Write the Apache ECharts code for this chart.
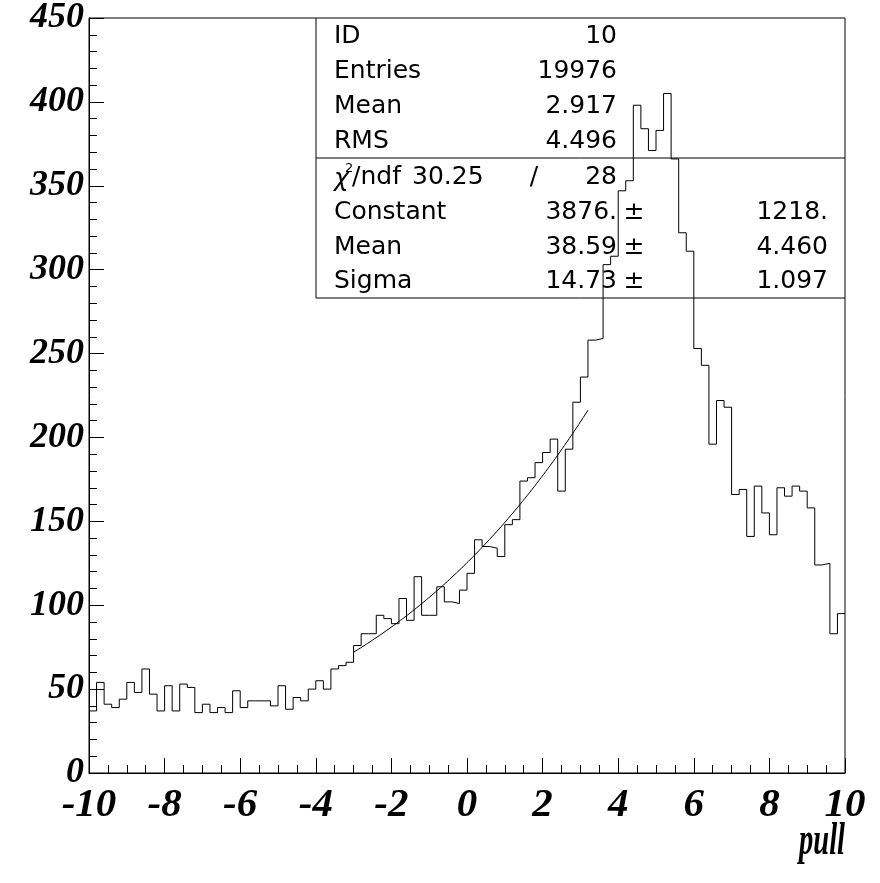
<!DOCTYPE html>
<html>
<head>
<meta charset="utf-8">
<script src="https://cdn.jsdelivr.net/npm/echarts@6/dist/echarts.min.js"></script>
<style>
  html, body { margin: 0; padding: 0; background: #fff; }
  #chart { width: 880px; height: 883px; }
</style>
</head>
<body>
<div id="chart"></div>
<script>
// Histogram ID 10: distribution of "pull", 100 bins from -10 to 10
const binLow = -10;
const binWidth = 0.2;
const counts = [
  37, 54, 41, 39, 44, 54, 48, 62, 47, 37,
  52, 37, 53, 51, 36, 41, 36, 39, 36, 49,
  39, 43, 43, 43, 40, 52, 38, 45, 43, 50,
  55, 50, 62, 64, 66, 76, 83, 83, 94, 92,
  89, 104, 91, 117, 94, 94, 111, 102, 101, 109,
  119, 139, 135, 134, 129, 148, 151, 174, 176, 185,
  191, 199, 168, 193, 221, 236, 258, 259, 303, 308,
  347, 353, 398, 384, 371, 383, 405, 366, 322, 311,
  253, 243, 196, 222, 218, 166, 169, 141, 171, 155,
  142, 170, 165, 171, 168, 158, 124, 125, 83, 95
];

// Axis ranges and tick spacing
const xRange = [-10, 10];
const xMajorStep = 2;
const yRange = [0, 450];
const yMajorStep = 50;
const xTitle = 'pull';

// Statistics box contents
const statNames = ['ID', 'Entries', 'Mean', 'RMS'];
const statValues = ['10', '19976', '2.917', '4.496'];
const chi2Value = '30.25';
const ndfValue = '28';
const fitNames = ['Constant', 'Mean', 'Sigma'];
const fitValues = ['3876.', '38.59', '14.73'];
const fitErrors = ['1218.', '4.460', '1.097'];

// Gaussian fit parameters and fit range
const fitConstant = 3876;
const fitMean = 38.59;
const fitSigma = 14.73;
const fitRange = [-3.0, 3.2];

// Step outline: one point at each bin's lower edge, plus the upper edge of the last bin
const histPoints = counts.map((c, i) => [binLow + i * binWidth, c]);
histPoints.push([binLow + counts.length * binWidth, counts[counts.length - 1]]);

// Fit curve evaluated from the fitted parameters
const fitPoints = [];
const nFit = 200;
for (let k = 0; k <= nFit; k++) {
  const x = fitRange[0] + (fitRange[1] - fitRange[0]) * k / nFit;
  const z = (x - fitMean) / fitSigma;
  fitPoints.push([x, fitConstant * Math.exp(-0.5 * z * z)]);
}

const grid = { left: 89, right: 35, top: 18, bottom: 110 };
const W = 880, H = 883;
const plotRight = W - grid.right;

const tickFont = {
  fontFamily: 'Liberation Serif',
  fontWeight: 'bold',
  fontStyle: 'italic',
  color: '#000'
};
const boxFont = { fontFamily: 'DejaVu Sans', fontSize: 25, fill: '#000' };

// Statistics box layout
const box = { left: 316, top: 18, mid: 158, bottom: 298 };
const rowY = [36, 71, 106, 141, 177, 212, 247, 281];
const colName = 334, colValue = 617, colPm = 634, colErr = 828;

function txt(text, x, y, align, extra) {
  return {
    type: 'text', x: x, y: y, silent: true,
    style: Object.assign({ text: text, align: align, verticalAlign: 'middle' }, boxFont, extra || {})
  };
}

const boxElements = [
  { type: 'line', silent: true, shape: { x1: box.left, y1: box.top, x2: box.left, y2: box.bottom }, style: { stroke: '#000', lineWidth: 1 } },
  { type: 'line', silent: true, shape: { x1: box.left, y1: box.mid, x2: plotRight, y2: box.mid }, style: { stroke: '#000', lineWidth: 1 } },
  { type: 'line', silent: true, shape: { x1: box.left, y1: box.bottom, x2: plotRight, y2: box.bottom }, style: { stroke: '#000', lineWidth: 1 } }
];
statNames.forEach((n, i) => {
  boxElements.push(txt(n, colName, rowY[i], 'left'));
  boxElements.push(txt(statValues[i], colValue, rowY[i], 'right'));
});
// chi-square / ndf row
boxElements.push(txt('\u03C7', colName, rowY[4] + 2, 'left', { fontStyle: 'italic' }));
boxElements.push(txt('2', 345, rowY[4] - 8, 'left', { fontSize: 13 }));
boxElements.push(txt('/ndf', 352, rowY[4], 'left'));
boxElements.push(txt(chi2Value, 412, rowY[4], 'left', { letterSpacing: 2 }));
boxElements.push(txt('/', 534, rowY[4], 'center'));
boxElements.push(txt(ndfValue, colValue, rowY[4], 'right'));
fitNames.forEach((n, i) => {
  const y = rowY[5 + i];
  boxElements.push(txt(n, colName, y, 'left'));
  boxElements.push(txt(fitValues[i], colValue, y, 'right'));
  boxElements.push(txt('\u00B1', colPm, y, 'center'));
  boxElements.push(txt(fitErrors[i], colErr, y, 'right'));
});
// x-axis title, horizontally condensed like the tick labels
boxElements.push({
  type: 'text', silent: true, x: plotRight, y: 842, scaleX: 0.62,
  style: {
    text: xTitle, align: 'right', verticalAlign: 'middle', fontSize: 46, fill: '#000',
    fontFamily: 'Liberation Serif', fontWeight: 'bold', fontStyle: 'italic'
  }
});

const chart = echarts.init(document.getElementById('chart'), null, { renderer: 'canvas' });
chart.setOption({
  animation: false,
  backgroundColor: '#fff',
  grid: Object.assign({ show: true, borderColor: '#000', borderWidth: 1, backgroundColor: 'transparent' }, grid),
  xAxis: {
    type: 'value',
    min: xRange[0], max: xRange[1], interval: xMajorStep,
    axisLine: { show: true, onZero: false, lineStyle: { color: '#000', width: 1 } },
    axisTick: { show: true, inside: true, length: 15, lineStyle: { color: '#000', width: 1 } },
    minorTick: { show: true, splitNumber: 4, length: 8, lineStyle: { color: '#000', width: 1 } },
    splitLine: { show: false },
    axisLabel: Object.assign({ fontSize: 41, margin: 12 }, tickFont)
  },
  yAxis: {
    type: 'value',
    min: yRange[0], max: yRange[1], interval: yMajorStep,
    axisLine: { show: true, onZero: false, lineStyle: { color: '#000', width: 1 } },
    axisTick: { show: true, inside: true, length: 15, lineStyle: { color: '#000', width: 1 } },
    minorTick: { show: true, splitNumber: 5, length: 8, lineStyle: { color: '#000', width: 1 } },
    splitLine: { show: false },
    axisLabel: Object.assign({ fontSize: 36, margin: 5 }, tickFont)
  },
  series: [
    {
      name: 'histogram',
      type: 'line',
      step: 'end',
      data: histPoints,
      showSymbol: false,
      symbol: 'none',
      silent: true,
      lineStyle: { color: '#000', width: 1 }
    },
    {
      name: 'fit',
      type: 'line',
      data: fitPoints,
      showSymbol: false,
      symbol: 'none',
      silent: true,
      lineStyle: { color: '#000', width: 1 }
    }
  ],
  graphic: { elements: boxElements }
});
</script>
</body>
</html>
